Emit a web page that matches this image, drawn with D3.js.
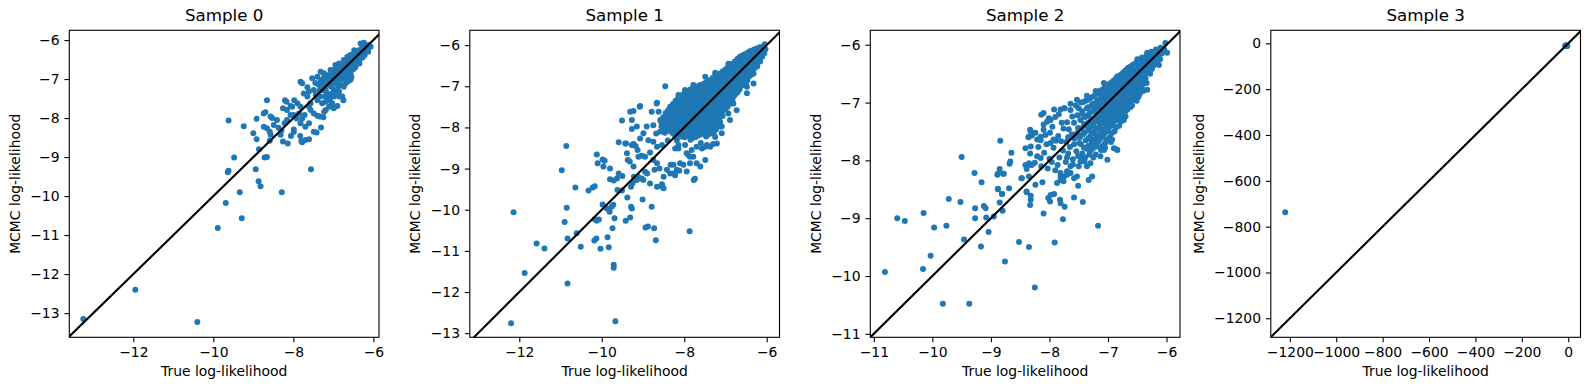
<!DOCTYPE html>
<html>
<head>
<meta charset="utf-8">
<script src="https://cdn.jsdelivr.net/npm/d3@7"></script>
<style>
  body { margin: 0; background: #fff; }
  text { font-family: "DejaVu Sans", sans-serif; fill: #000; }
</style>
</head>
<body>
<div id="chart"></div>
<script>
// titles and axis labels
const sampleTitles = ["Sample 0", "Sample 1", "Sample 2", "Sample 3"];
const xLabelText = "True log-likelihood";
const yLabelText = "MCMC log-likelihood";

// axis limits
const xLimits = [[-13.6, -5.86], [-13.2, -5.69], [-11.06, -5.77], [-1282, 53]];
const yLimits = [[-13.62, -5.75], [-13.1, -5.64], [-11.06, -5.75], [-1283, 57]];

// tick values
const xTickValues = [[-12, -10, -8, -6], [-12, -10, -8, -6], [-11, -10, -9, -8, -7, -6], [-1200, -1000, -800, -600, -400, -200, 0]];
const yTickValues = [[-13, -12, -11, -10, -9, -8, -7, -6], [-13, -12, -11, -10, -9, -8, -7, -6], [-11, -10, -9, -8, -7, -6], [-1200, -1000, -800, -600, -400, -200, 0]];

// [true, mcmc] pairs
const sample0 = [
[-13.25,-13.15],[-11.95,-12.40],[-10.40,-13.23],[-9.89,-10.82],[-9.69,-10.18],[-9.29,-10.57],[-9.34,-9.90],
[-9.64,-9.39],[-9.62,-9.35],[-9.48,-9.01],[-9.62,-8.06],[-9.24,-8.21],[-8.94,-9.31],[-8.87,-9.62],[-8.82,-9.75],
[-8.86,-8.80],[-8.92,-8.54],[-9.0,-8.39],[-8.92,-8.02],[-8.72,-9.01],[-8.66,-9.0],[-8.29,-9.90],[-7.56,-9.31],
[-8.66,-7.54],[-8.74,-7.88],[-8.70,-7.85],[-8.57,-7.96],[-8.53,-8.0],[-8.74,-8.22],[-8.66,-8.26],[-8.59,-8.35],
[-8.57,-8.43],[-8.59,-8.58],[-8.49,-8.18],[-8.41,-8.05],[-8.37,-8.25],[-8.30,-8.32],[-8.22,-8.13],[-8.16,-8.05],
[-8.26,-8.60],[-8.14,-8.65],[-8.32,-8.43],[-7.99,-8.29],[-8.21,-7.54],[-8.17,-7.58],[-8.26,-7.75],[-8.16,-7.79],
[-8.07,-7.69],[-8.03,-7.71],[-8.06,-8.46],[-7.99,-8.36],[-7.82,-8.13],[-7.78,-8.01],[-7.72,-7.92],[-7.83,-8.46],
[-7.80,-8.59],[-7.78,-8.62],[-7.70,-8.56],[-7.61,-8.54],[-7.49,-8.35],[-7.42,-8.37],[-7.31,-8.24],[-7.70,-8.22],
[-7.61,-8.13],[-7.40,-7.94],[-7.34,-7.96],[-7.25,-7.98],[-7.49,-7.88],[-7.57,-7.79],[-7.23,-7.84],[-7.19,-7.79],
[-6.90,-7.69],[-7.98,-7.54],[-7.90,-7.62],[-7.82,-7.71],[-7.82,-7.07],[-7.78,-7.11],[-7.65,-7.21],[-7.61,-7.32],
[-7.53,-6.98],[-7.36,-7.15],[-7.32,-7.07],[-7.32,-6.81],[-7.24,-6.85],[-7.19,-7.28],[-7.15,-7.37],[-7.11,-7.54],
[-7.07,-7.47],[-6.99,-7.45],[-6.90,-7.24],[-6.86,-7.32],[-6.82,-7.15],[-7.03,-6.98],[-6.99,-6.77],[-6.90,-6.73],
[-6.82,-6.68],[-6.74,-6.64],[-6.65,-6.55],[-6.57,-6.51],[-6.53,-6.38],[-6.44,-6.34],[-6.36,-6.26],[-6.28,-6.17],
[-6.19,-6.13],[-6.11,-6.13],[-6.07,-6.17],[-6.32,-6.09],[-6.24,-6.07],[-6.48,-6.47],[-6.40,-6.55],[-6.36,-6.43],
[-6.65,-6.77],[-6.57,-6.85],[-6.48,-6.68],[-6.74,-6.90],[-6.65,-6.94],[-6.57,-7.02],[-6.69,-7.11],[-6.82,-7.02],
[-6.90,-6.94],[-7.07,-7.11],[-7.11,-7.15],[-7.24,-7.19],[-7.28,-7.02],[-7.40,-6.94],[-7.49,-7.28],[-7.44,-7.41],
[-7.40,-7.54],[-7.32,-7.45],[-7.28,-7.62],[-7.19,-7.58],[-7.11,-7.71],[-7.03,-7.62],[-6.99,-7.75],[-6.86,-7.45],
[-6.78,-7.45],[-6.75,-7.54],[-6.99,-7.28],[-6.95,-7.11],[-7.03,-7.37],[-7.74,-7.37],[-7.65,-7.45],[-7.57,-7.62],
[-7.61,-7.71],[-8.07,-7.92],[-7.99,-7.92],[-7.92,-8.01],[-7.86,-7.88],
[-6.82,-6.81],[-6.78,-6.94],[-6.69,-6.81],[-6.61,-6.68],[-6.53,-6.60],[-6.44,-6.47],[-6.40,-6.34],[-6.28,-6.30],
[-6.19,-6.26],[-6.15,-6.21],[-6.48,-6.26],[-6.57,-6.38],[-6.65,-6.43],[-6.74,-6.51],[-6.86,-6.60],[-6.95,-6.64],
[-7.07,-6.77],[-7.15,-6.90],[-7.24,-6.98],[-7.28,-7.19],[-6.90,-7.07],[-6.74,-7.20],
[-7.15,-7.0],[-7.05,-7.2],[-6.95,-7.35],[-6.85,-6.9],[-6.7,-7.0],[-6.6,-6.9],[-6.5,-6.75],[-6.45,-6.6],
[-6.35,-6.52],[-6.3,-6.4],[-6.25,-6.35],[-6.6,-6.62],[-6.7,-6.72],[-6.92,-6.85],[-7.2,-7.45],[-7.45,-7.1],
[-7.35,-7.3],[-7.1,-6.9],[-6.62,-7.05],[-6.55,-6.95],
[-6.2,-6.2],[-6.3,-6.25],[-6.38,-6.38],[-6.42,-6.42],[-6.5,-6.5],[-6.55,-6.45],[-6.62,-6.55],[-6.68,-6.65],
[-6.72,-6.75],[-6.78,-6.7],[-6.8,-6.88],[-6.88,-6.8],[-6.92,-6.95],[-6.97,-6.88],[-7.0,-7.0],[-7.05,-6.92],
[-7.08,-7.05],[-7.12,-7.1],[-7.2,-7.1],[-7.22,-7.3],[-6.6,-6.78],[-6.68,-6.88],[-6.45,-6.7],[-6.35,-6.6],
[-6.27,-6.45],[-6.22,-6.38],[-6.13,-6.3]
];

const sample1 = [
// scattered
[-12.20,-12.76],[-12.14,-10.06],[-11.87,-11.54],[-11.58,-10.82],[-11.39,-10.94],[-10.97,-9.04],[-10.86,-8.45],
[-10.90,-10.30],[-10.85,-9.95],[-10.83,-10.70],[-10.83,-11.79],[-10.61,-10.57],[-10.51,-10.90],[-10.64,-9.46],
[-10.32,-9.53],[-10.22,-9.46],[-10.17,-9.43],[-10.12,-8.66],[-10.10,-8.87],[-9.98,-8.78],[-9.93,-8.81],[-9.96,-8.95],
[-9.80,-9.0],[-10.17,-10.23],[-10.12,-10.27],[-10.07,-10.24],[-10.18,-10.75],[-10.13,-10.70],[-10.03,-10.95],
[-9.98,-9.87],[-9.88,-9.97],[-9.81,-10.05],[-9.76,-9.93],[-9.72,-9.88],[-9.69,-10.21],[-9.86,-10.67],[-9.83,-10.91],
[-9.71,-11.34],[-9.71,-11.41],[-9.67,-12.71],[-9.74,-10.45],[-9.80,-9.26],[-9.71,-9.29],[-9.63,-9.24],[-9.59,-9.12],
[-9.50,-9.18],[-9.62,-9.52],[-9.59,-8.36],[-9.42,-10.27],[-9.38,-9.70],[-9.29,-9.93],[-9.27,-9.97],[-9.31,-10.19],
[-9.01,-9.75],[-8.94,-10.43],[-8.88,-10.41],[-8.73,-10.45],[-8.79,-9.93],[-8.69,-10.74],[-7.87,-10.52],[-9.29,-9.44],
[-9.25,-9.35],[-9.22,-9.2],[-9.15,-9.28],[-9.12,-9.2],[-9.03,-9.24],[-8.95,-9.08],[-8.90,-9.12],
[-8.46,-7.0],[-8.66,-7.40],[-9.07,-7.48],[-9.23,-7.60],[-9.31,-7.62],[-9.51,-7.83],[-9.27,-7.82],[-9.27,-8.04],
[-8.79,-7.62],[-8.58,-7.82],[-8.34,-7.50],[-8.91,-7.98],[-8.99,-8.14],[-9.43,-8.39],[-9.27,-8.43],[-9.07,-8.27],
[-8.87,-8.31],[-8.75,-8.35],[-8.66,-8.47],[-8.54,-8.43],[-9.23,-8.95],[-9.03,-8.69],[-8.95,-8.71],[-8.83,-8.61],
[-8.75,-8.79],[-8.66,-8.87],[-8.99,-9.28],[-8.83,-9.36],[-8.66,-9.44],[-8.54,-9.44],[-8.50,-9.2],[-8.34,-9.12],
[-8.26,-8.91],[-8.10,-8.87],[-8.02,-8.91],[-8.18,-9.03],[-8.26,-9.12],[-7.94,-9.07],[-7.86,-8.87],[-7.70,-8.87],
[-7.74,-9.25],[-7.77,-9.28],[-7.49,-8.79],[-7.94,-8.63],[-7.86,-8.71],[-8.22,-8.51],[-8.14,-8.43],[-8.18,-8.31],
[-9.51,-9.53],[-8.60,-9.0],[-8.72,-9.03],[-8.54,-9.38],[-8.50,-9.48],[-7.30,-8.40],[-7.29,-8.14],[-7.57,-8.51],
[-7.49,-8.47],[-7.90,-8.67],[-7.78,-8.71],[-7.61,-8.95],[-8.42,-9.03],[-8.33,-8.91],[-8.22,-9.16],[-8.12,-9.05],
[-9.11,-8.71],[-9.13,-8.55],[-9.18,-8.45],[-9.23,-8.40],[-9.39,-8.63],[-9.41,-8.39],[-9.37,-8.79],[-9.32,-8.83],
[-9.08,-7.50],[-9.15,-7.98],[-8.67,-7.42],
[-7.13,-7.98],[-7.09,-8.14],[-6.89,-7.82],[-6.73,-7.58],[-6.48,-7.17],[-6.32,-6.93],[-7.21,-8.39],[-7.37,-8.47],
// ragged edges of the core
[-8.14,-7.21],[-7.98,-7.09],[-7.78,-6.97],[-7.49,-6.77],[-7.25,-6.67],[-6.93,-6.45],[-6.61,-6.32],[-6.32,-6.16],
[-6.32,-6.69],[-6.48,-7.01],[-6.81,-7.42],[-6.93,-7.66],[-7.09,-7.98],[-7.25,-8.23],[-7.45,-8.43],[-7.70,-8.47],
[-7.82,-8.55],[-7.98,-8.43],[-8.14,-8.51],[-8.62,-7.62],[-8.75,-7.95],[-8.4,-8.32],[-8.68,-8.15],[-7.6,-8.38],
// dense core
[-6.05,-5.98],[-6.03,-6.1],[-6.06,-6.2],
[-6.17,-6.05],[-6.15,-6.17],[-6.18,-6.29],[-6.16,-6.4],
[-6.29,-6.1],[-6.27,-6.22],[-6.3,-6.34],[-6.28,-6.46],[-6.31,-6.58],
[-6.41,-6.15],[-6.39,-6.27],[-6.42,-6.39],[-6.4,-6.51],[-6.43,-6.63],[-6.41,-6.75],
[-6.53,-6.22],[-6.51,-6.34],[-6.54,-6.46],[-6.52,-6.58],[-6.55,-6.7],[-6.53,-6.82],[-6.51,-6.92],
[-6.65,-6.28],[-6.63,-6.4],[-6.66,-6.52],[-6.64,-6.64],[-6.67,-6.76],[-6.65,-6.88],[-6.63,-7.0],[-6.66,-7.08],
[-6.77,-6.4],[-6.75,-6.52],[-6.78,-6.64],[-6.76,-6.76],[-6.79,-6.88],[-6.77,-7.0],[-6.75,-7.12],[-6.78,-7.22],
[-6.89,-6.5],[-6.87,-6.62],[-6.9,-6.74],[-6.88,-6.86],[-6.91,-6.98],[-6.89,-7.1],[-6.87,-7.22],[-6.9,-7.34],[-6.88,-7.42],
[-7.01,-6.6],[-6.99,-6.72],[-7.02,-6.84],[-7.0,-6.96],[-7.03,-7.08],[-7.01,-7.2],[-6.99,-7.32],[-7.02,-7.44],[-7.0,-7.56],
[-7.13,-6.69],[-7.11,-6.81],[-7.14,-6.93],[-7.12,-7.05],[-7.15,-7.17],[-7.13,-7.29],[-7.11,-7.41],[-7.14,-7.53],[-7.12,-7.65],[-7.15,-7.77],[-7.13,-7.87],
[-7.25,-6.75],[-7.23,-6.87],[-7.26,-6.99],[-7.24,-7.11],[-7.27,-7.23],[-7.25,-7.35],[-7.23,-7.47],[-7.26,-7.59],[-7.24,-7.71],[-7.27,-7.83],[-7.25,-7.95],[-7.23,-8.05],
[-7.37,-6.85],[-7.35,-6.97],[-7.38,-7.09],[-7.36,-7.21],[-7.39,-7.33],[-7.37,-7.45],[-7.35,-7.57],[-7.38,-7.69],[-7.36,-7.81],[-7.39,-7.93],[-7.37,-8.05],[-7.35,-8.15],
[-7.49,-6.92],[-7.47,-7.04],[-7.5,-7.16],[-7.48,-7.28],[-7.51,-7.4],[-7.49,-7.52],[-7.47,-7.64],[-7.5,-7.76],[-7.48,-7.88],[-7.51,-8.0],[-7.49,-8.12],[-7.47,-8.22],
[-7.61,-6.97],[-7.59,-7.09],[-7.62,-7.21],[-7.6,-7.33],[-7.63,-7.45],[-7.61,-7.57],[-7.59,-7.69],[-7.62,-7.81],[-7.6,-7.93],[-7.63,-8.05],[-7.61,-8.17],
[-7.73,-7.02],[-7.71,-7.14],[-7.74,-7.26],[-7.72,-7.38],[-7.75,-7.5],[-7.73,-7.62],[-7.71,-7.74],[-7.74,-7.86],[-7.72,-7.98],[-7.75,-8.1],[-7.73,-8.24],
[-7.85,-7.08],[-7.83,-7.2],[-7.86,-7.32],[-7.84,-7.44],[-7.87,-7.56],[-7.85,-7.68],[-7.83,-7.8],[-7.86,-7.92],[-7.84,-8.04],[-7.87,-8.16],[-7.85,-8.3],
[-7.97,-7.15],[-7.95,-7.27],[-7.98,-7.39],[-7.96,-7.51],[-7.99,-7.63],[-7.97,-7.75],[-7.95,-7.87],[-7.98,-7.99],[-7.96,-8.11],[-7.99,-8.24],
[-8.09,-7.25],[-8.07,-7.37],[-8.1,-7.49],[-8.08,-7.61],[-8.11,-7.73],[-8.09,-7.85],[-8.07,-7.97],[-8.1,-8.09],[-8.08,-8.22],
[-8.21,-7.35],[-8.19,-7.47],[-8.22,-7.59],[-8.2,-7.71],[-8.23,-7.83],[-8.21,-7.95],[-8.19,-8.07],[-8.22,-8.2],
[-8.33,-7.5],[-8.31,-7.62],[-8.34,-7.74],[-8.32,-7.86],[-8.35,-7.98],[-8.33,-8.1],
[-8.45,-7.65],[-8.43,-7.77],[-8.46,-7.89],[-8.44,-8.01],[-8.47,-8.13],
[-8.57,-7.85],[-8.55,-7.97],[-8.58,-8.1],
// dense core, in-between points
[-6.11,-6.04],[-6.11,-6.16],[-6.11,-6.28],
[-6.23,-6.08],[-6.23,-6.2],[-6.23,-6.32],[-6.23,-6.44],[-6.23,-6.52],
[-6.35,-6.13],[-6.35,-6.25],[-6.35,-6.37],[-6.35,-6.49],[-6.35,-6.61],[-6.35,-6.7],
[-6.47,-6.19],[-6.47,-6.31],[-6.47,-6.43],[-6.47,-6.55],[-6.47,-6.67],[-6.47,-6.79],[-6.47,-6.86],
[-6.59,-6.25],[-6.59,-6.37],[-6.59,-6.49],[-6.59,-6.61],[-6.59,-6.73],[-6.59,-6.85],[-6.59,-6.97],
[-6.71,-6.34],[-6.71,-6.46],[-6.71,-6.58],[-6.71,-6.7],[-6.71,-6.82],[-6.71,-6.94],[-6.71,-7.06],[-6.71,-7.15],
[-6.83,-6.45],[-6.83,-6.57],[-6.83,-6.69],[-6.83,-6.81],[-6.83,-6.93],[-6.83,-7.05],[-6.83,-7.17],[-6.83,-7.29],[-6.83,-7.36],
[-6.95,-6.55],[-6.95,-6.67],[-6.95,-6.79],[-6.95,-6.91],[-6.95,-7.03],[-6.95,-7.15],[-6.95,-7.27],[-6.95,-7.39],[-6.95,-7.5],
[-7.07,-6.64],[-7.07,-6.76],[-7.07,-6.88],[-7.07,-7.0],[-7.07,-7.12],[-7.07,-7.24],[-7.07,-7.36],[-7.07,-7.48],[-7.07,-7.6],[-7.07,-7.72],
[-7.19,-6.72],[-7.19,-6.84],[-7.19,-6.96],[-7.19,-7.08],[-7.19,-7.2],[-7.19,-7.32],[-7.19,-7.44],[-7.19,-7.56],[-7.19,-7.68],[-7.19,-7.8],[-7.19,-7.92],
[-7.31,-6.8],[-7.31,-6.92],[-7.31,-7.04],[-7.31,-7.16],[-7.31,-7.28],[-7.31,-7.4],[-7.31,-7.52],[-7.31,-7.64],[-7.31,-7.76],[-7.31,-7.88],[-7.31,-8.0],[-7.31,-8.1],
[-7.43,-6.88],[-7.43,-7.0],[-7.43,-7.12],[-7.43,-7.24],[-7.43,-7.36],[-7.43,-7.48],[-7.43,-7.6],[-7.43,-7.72],[-7.43,-7.84],[-7.43,-7.96],[-7.43,-8.08],[-7.43,-8.18],
[-7.55,-6.95],[-7.55,-7.07],[-7.55,-7.19],[-7.55,-7.31],[-7.55,-7.43],[-7.55,-7.55],[-7.55,-7.67],[-7.55,-7.79],[-7.55,-7.91],[-7.55,-8.03],[-7.55,-8.15],
[-7.67,-7.0],[-7.67,-7.12],[-7.67,-7.24],[-7.67,-7.36],[-7.67,-7.48],[-7.67,-7.6],[-7.67,-7.72],[-7.67,-7.84],[-7.67,-7.96],[-7.67,-8.08],[-7.67,-8.2],
[-7.79,-7.05],[-7.79,-7.17],[-7.79,-7.29],[-7.79,-7.41],[-7.79,-7.53],[-7.79,-7.65],[-7.79,-7.77],[-7.79,-7.89],[-7.79,-8.01],[-7.79,-8.13],[-7.79,-8.25],
[-7.91,-7.12],[-7.91,-7.24],[-7.91,-7.36],[-7.91,-7.48],[-7.91,-7.6],[-7.91,-7.72],[-7.91,-7.84],[-7.91,-7.96],[-7.91,-8.08],[-7.91,-8.2],
[-8.03,-7.2],[-8.03,-7.32],[-8.03,-7.44],[-8.03,-7.56],[-8.03,-7.68],[-8.03,-7.8],[-8.03,-7.92],[-8.03,-8.04],[-8.03,-8.16],
[-8.15,-7.3],[-8.15,-7.42],[-8.15,-7.54],[-8.15,-7.66],[-8.15,-7.78],[-8.15,-7.9],[-8.15,-8.02],[-8.15,-8.14],
[-8.27,-7.43],[-8.27,-7.55],[-8.27,-7.67],[-8.27,-7.79],[-8.27,-7.91],[-8.27,-8.03],[-8.27,-8.15],
[-8.39,-7.58],[-8.39,-7.7],[-8.39,-7.82],[-8.39,-7.94],[-8.39,-8.06],
[-8.51,-7.75],[-8.51,-7.87],[-8.51,-7.99],[-8.51,-8.1]
];

const sample2 = [
// scattered
[-10.81,-9.93],[-10.60,-9.00],[-10.47,-9.05],[-10.15,-8.91],[-9.97,-9.16],[-10.16,-9.88],[-10.03,-9.65],
[-9.82,-10.48],[-9.37,-10.48],[-9.76,-9.13],[-9.72,-8.67],[-9.52,-8.72],[-9.50,-7.94],[-9.46,-9.37],[-9.28,-8.22],
[-9.27,-8.83],[-9.27,-9.00],[-9.17,-9.49],[-9.16,-8.38],[-9.12,-8.79],[-9.09,-8.83],[-9.08,-8.99],[-9.04,-9.24],
[-8.95,-8.97],[-8.84,-7.66],[-8.88,-8.49],[-8.88,-8.23],[-8.85,-8.15],[-8.85,-8.73],[-8.80,-8.87],[-8.78,-8.23],
[-8.81,-8.58],[-8.76,-9.75],[-8.69,-8.48],[-8.68,-8.06],[-8.65,-7.87],[-8.52,-9.41],[-8.48,-8.31],[-8.39,-8.15],
[-8.35,-8.05],[-8.39,-8.54],[-8.35,-9.50],[-8.32,-8.68],[-8.33,-8.77],[-8.36,-7.60],[-8.33,-7.47],[-8.24,-8.42],
[-8.25,-10.20],[-8.14,-7.21],[-8.10,-8.92],[-8.07,-7.56],[-8.02,-8.65],[-7.99,-8.71],[-7.92,-8.58],[-7.91,-9.42],
[-7.82,-8.68],[-7.81,-8.74],[-7.77,-9.02],[-7.74,-8.80],[-7.58,-8.64],[-7.51,-8.44],[-7.43,-8.72],[-7.17,-9.13],
[-6.85,-7.81],[-7.87,-8.39],[-7.81,-8.34],[-7.76,-8.36],[-7.70,-8.25],[-7.64,-8.22],[-7.58,-8.31],
[-8.10,-7.18],[-8.01,-7.27],[-7.98,-7.30],[-7.81,-7.12],[-7.75,-7.10],[-8.32,-7.50],[-8.10,-7.47],[-8.21,-7.64],
[-8.15,-7.59],[-8.35,-7.59],[-7.98,-7.70],[-7.93,-7.64],[-8.41,-7.79],[-8.32,-7.76],[-8.41,-8.08],[-8.35,-8.08],
[-8.30,-8.08],[-8.47,-8.31],[-8.35,-8.28],[-8.21,-7.93],[-8.15,-7.96],[-8.89,-8.25],[-8.79,-8.23],[-8.67,-8.02],
[-8.88,-8.50],[-8.81,-8.58],[-8.39,-8.55],[-8.32,-8.61],[-8.12,-8.38],[-7.98,-8.60],[-7.81,-8.22],[-7.75,-8.28],
[-7.70,-8.19],[-7.64,-8.10],[-7.53,-8.28],[-7.50,-8.10],[-7.36,-8.10],[-7.30,-8.05],[-7.33,-8.34],[-7.27,-8.28],
[-7.19,-7.76],[-7.07,-7.82],[-7.13,-7.93],[-7.01,-7.99],[-6.90,-7.79],[-6.84,-7.82],[-6.93,-7.64],[-6.79,-7.24],
[-6.73,-7.30],[-6.59,-6.95],[-6.53,-6.81],[-6.36,-6.66],[-6.33,-6.78],[-6.16,-6.29],[-6.13,-6.35],[-5.99,-6.14],
// ragged edges of the core
[-6.84,-6.55],[-7.07,-6.66],[-7.53,-6.95],[-7.64,-7.02],[-7.36,-6.88],[-7.21,-6.8],[-6.67,-6.43],[-6.50,-6.25],
[-6.33,-6.14],[-7.92,-7.12],[-7.12,-7.82],[-7.25,-7.95],[-7.4,-8.02],[-7.32,-7.9],[-7.18,-7.68],[-7.05,-7.78],
[-6.95,-7.68],[-7.45,-7.95],[-7.6,-7.98],[-7.7,-7.95],[-7.58,-7.72],[-7.68,-7.6],
// dense core
[-6.02,-5.97],[-6.04,-6.08],
[-6.10,-6.05],[-6.08,-6.15],[-6.11,-6.25],
[-6.18,-6.08],[-6.16,-6.18],[-6.19,-6.3],
[-6.26,-6.12],[-6.24,-6.22],[-6.27,-6.32],[-6.25,-6.42],[-6.28,-6.5],
[-6.34,-6.18],[-6.32,-6.28],[-6.35,-6.38],[-6.33,-6.48],[-6.36,-6.58],[-6.34,-6.66],
[-6.42,-6.22],[-6.40,-6.32],[-6.43,-6.42],[-6.41,-6.52],[-6.44,-6.62],[-6.42,-6.72],[-6.40,-6.8],
[-6.50,-6.3],[-6.48,-6.4],[-6.51,-6.5],[-6.49,-6.6],[-6.52,-6.7],[-6.50,-6.8],[-6.48,-6.9],[-6.51,-6.97],
[-6.58,-6.35],[-6.56,-6.45],[-6.59,-6.55],[-6.57,-6.65],[-6.60,-6.75],[-6.58,-6.85],[-6.56,-6.95],[-6.59,-7.05],
[-6.66,-6.4],[-6.64,-6.5],[-6.67,-6.6],[-6.65,-6.7],[-6.68,-6.8],[-6.66,-6.9],[-6.64,-7.0],[-6.67,-7.12],
[-6.74,-6.48],[-6.72,-6.58],[-6.75,-6.68],[-6.73,-6.78],[-6.76,-6.88],[-6.74,-6.98],[-6.72,-7.08],[-6.75,-7.2],[-6.73,-7.28],
[-6.82,-6.55],[-6.80,-6.65],[-6.83,-6.75],[-6.81,-6.85],[-6.84,-6.95],[-6.82,-7.05],[-6.80,-7.15],[-6.83,-7.28],[-6.81,-7.4],
[-6.90,-6.62],[-6.88,-6.72],[-6.91,-6.82],[-6.89,-6.92],[-6.92,-7.02],[-6.90,-7.12],[-6.88,-7.22],[-6.91,-7.35],[-6.89,-7.5],
[-6.98,-6.68],[-6.96,-6.78],[-6.99,-6.9],[-6.97,-7.0],[-7.00,-7.1],[-6.98,-7.2],[-6.96,-7.32],[-6.99,-7.45],[-6.97,-7.6],
[-7.06,-6.75],[-7.04,-6.85],[-7.07,-6.97],[-7.05,-7.08],[-7.08,-7.2],[-7.06,-7.3],[-7.04,-7.42],[-7.07,-7.55],[-7.05,-7.7],
[-7.14,-6.8],[-7.12,-6.92],[-7.15,-7.05],[-7.13,-7.15],[-7.16,-7.28],[-7.14,-7.4],[-7.12,-7.52],[-7.15,-7.65],
[-7.22,-6.87],[-7.20,-7.0],[-7.23,-7.12],[-7.21,-7.25],[-7.24,-7.35],[-7.22,-7.48],[-7.20,-7.6],[-7.23,-7.75],[-7.21,-7.9],
[-7.30,-6.92],[-7.28,-7.05],[-7.31,-7.18],[-7.29,-7.3],[-7.32,-7.45],[-7.30,-7.58],[-7.28,-7.7],[-7.31,-7.85],
[-7.38,-6.97],[-7.36,-7.1],[-7.39,-7.25],[-7.37,-7.4],[-7.40,-7.52],[-7.38,-7.65],[-7.36,-7.8],[-7.39,-7.95],
[-7.46,-7.0],[-7.44,-7.15],[-7.47,-7.3],[-7.45,-7.45],[-7.48,-7.6],[-7.46,-7.72],[-7.44,-7.88],[-7.47,-8.02],
[-7.55,-7.05],[-7.52,-7.22],[-7.58,-7.35],[-7.53,-7.53],[-7.57,-7.62],[-7.54,-7.84],[-7.51,-7.93],
[-7.64,-7.13],[-7.61,-7.24],[-7.67,-7.46],[-7.62,-7.55],[-7.65,-7.77],[-7.68,-7.88],[-7.6,-8.07],
[-7.74,-7.1],[-7.7,-7.34],[-7.76,-7.45],[-7.71,-7.68],[-7.77,-7.83],[-7.72,-8.03],
[-7.84,-7.2],[-7.79,-7.35],[-7.85,-7.58],[-7.8,-7.67],[-7.83,-7.95],[-7.86,-8.08],[-7.81,-8.28],
[-7.9,-7.25],[-7.95,-7.42],[-7.89,-7.66],[-7.93,-7.78],[-7.96,-8.03],[-7.9,-8.17],
[-8.04,-7.33],[-7.99,-7.52],[-8.05,-7.72],[-8.0,-7.97],[-8.03,-8.14],
[-8.1,-7.38],[-8.15,-7.65],[-8.09,-7.87],[-8.14,-8.1],
[-8.24,-7.52],[-8.19,-7.77],[-8.25,-8.04],
[-8.3,-7.57],[-8.33,-7.88],
// dense core, in-between points
[-6.14,-6.1],[-6.14,-6.2],
[-6.22,-6.13],[-6.22,-6.25],[-6.22,-6.36],
[-6.30,-6.17],[-6.30,-6.27],[-6.30,-6.37],[-6.30,-6.46],
[-6.38,-6.23],[-6.38,-6.33],[-6.38,-6.43],[-6.38,-6.53],[-6.38,-6.62],
[-6.46,-6.27],[-6.46,-6.37],[-6.46,-6.47],[-6.46,-6.57],[-6.46,-6.67],[-6.46,-6.76],[-6.46,-6.85],
[-6.54,-6.33],[-6.54,-6.43],[-6.54,-6.53],[-6.54,-6.63],[-6.54,-6.73],[-6.54,-6.83],[-6.54,-6.93],
[-6.62,-6.38],[-6.62,-6.48],[-6.62,-6.58],[-6.62,-6.68],[-6.62,-6.78],[-6.62,-6.88],[-6.62,-6.98],[-6.62,-7.08],
[-6.70,-6.44],[-6.70,-6.54],[-6.70,-6.64],[-6.70,-6.74],[-6.70,-6.84],[-6.70,-6.94],[-6.70,-7.04],[-6.70,-7.15],[-6.70,-7.24],
[-6.78,-6.52],[-6.78,-6.62],[-6.78,-6.72],[-6.78,-6.82],[-6.78,-6.92],[-6.78,-7.02],[-6.78,-7.12],[-6.78,-7.22],[-6.78,-7.33],
[-6.86,-6.58],[-6.86,-6.68],[-6.86,-6.78],[-6.86,-6.88],[-6.86,-6.98],[-6.86,-7.08],[-6.86,-7.18],[-6.86,-7.3],[-6.86,-7.43],
[-6.94,-6.65],[-6.94,-6.75],[-6.94,-6.85],[-6.94,-6.95],[-6.94,-7.05],[-6.94,-7.15],[-6.94,-7.26],[-6.94,-7.4],[-6.94,-7.53],
[-7.02,-6.72],[-7.02,-6.82],[-7.02,-6.92],[-7.02,-7.03],[-7.02,-7.14],[-7.02,-7.25],[-7.02,-7.36],[-7.02,-7.5],[-7.02,-7.64],
[-7.10,-6.78],[-7.10,-6.88],[-7.10,-7.0],[-7.10,-7.12],[-7.10,-7.24],[-7.10,-7.35],[-7.10,-7.47],[-7.10,-7.6],[-7.10,-7.75],
[-7.18,-6.84],[-7.18,-6.96],[-7.18,-7.08],[-7.18,-7.2],[-7.18,-7.32],[-7.18,-7.44],[-7.18,-7.56],
[-7.26,-6.9],[-7.26,-7.02],[-7.26,-7.15],[-7.26,-7.28],[-7.26,-7.4],[-7.26,-7.53],[-7.26,-7.65],[-7.26,-7.8],
[-7.34,-6.95],[-7.34,-7.08],[-7.34,-7.22],[-7.34,-7.35],[-7.34,-7.48],[-7.34,-7.62],[-7.34,-7.75],
[-7.42,-6.99],[-7.43,-7.2],[-7.41,-7.37],[-7.43,-7.55],[-7.41,-7.78],
[-7.50,-7.1],[-7.51,-7.44],[-7.49,-7.7]
];

const sample3 = [
[-1220,-737],[-13,-11],[-10,-10],[-8,-9],[-6,-9],[-4,-10],[-7,-12],[-11,-9],[-5,-11]
];

const samples = [sample0, sample1, sample2, sample3];

// layout
const width = 1589, height = 390;
const panel = {left: 69.3, step: 400.5, top: 30.3, w: 309.7, h: 307};
const fmt = d3.format("d");

const svg = d3.select("#chart")
  .append("svg")
    .attr("width", width)
    .attr("height", height);

samples.forEach(function(pts, i) {
  const g = svg.append("g")
    .attr("transform", `translate(${panel.left + i * panel.step},${panel.top})`);

  const x = d3.scaleLinear().domain(xLimits[i]).range([0, panel.w]);
  const y = d3.scaleLinear().domain(yLimits[i]).range([panel.h, 0]);

  g.append("clipPath").attr("id", "clip" + i)
    .append("rect").attr("width", panel.w).attr("height", panel.h);

  const plot = g.append("g").attr("clip-path", `url(#clip${i})`);

  // points
  plot.selectAll("circle")
    .data(pts)
    .join("circle")
      .attr("cx", d => x(d[0]))
      .attr("cy", d => y(d[1]))
      .attr("r", 3)
      .style("fill", "#1f77b4");

  // identity line
  const lo = Math.min(xLimits[i][0], yLimits[i][0]);
  const hi = Math.max(xLimits[i][1], yLimits[i][1]);
  plot.append("line")
    .attr("x1", x(lo)).attr("y1", y(lo))
    .attr("x2", x(hi)).attr("y2", y(hi))
    .attr("stroke", "black")
    .attr("stroke-width", 2.1);

  // X axis
  const xAxis = g.append("g")
    .attr("transform", `translate(0,${panel.h})`)
    .call(d3.axisBottom(x).tickValues(xTickValues[i]).tickFormat(fmt).tickSize(4.9).tickPadding(4.9));
  xAxis.select(".domain").remove();
  xAxis.selectAll("line").attr("stroke", "black").attr("stroke-width", 1.1);
  xAxis.selectAll("text").style("font-size", "13.9px");

  // Y axis
  const yAxis = g.append("g")
    .call(d3.axisLeft(y).tickValues(yTickValues[i]).tickFormat(fmt).tickSize(4.9).tickPadding(4.9));
  yAxis.select(".domain").remove();
  yAxis.selectAll("line").attr("stroke", "black").attr("stroke-width", 1.1);
  yAxis.selectAll("text").style("font-size", "13.9px");

  // frame
  g.append("rect")
    .attr("width", panel.w)
    .attr("height", panel.h)
    .attr("fill", "none")
    .attr("stroke", "black")
    .attr("stroke-width", 1.1);

  // title
  g.append("text")
    .attr("x", panel.w / 2)
    .attr("y", 21 - panel.top)
    .attr("text-anchor", "middle")
    .style("font-size", "16.7px")
    .text(sampleTitles[i]);

  // x label
  g.append("text")
    .attr("x", panel.w / 2)
    .attr("y", 376 - panel.top)
    .attr("text-anchor", "middle")
    .style("font-size", "13.9px")
    .text(xLabelText);

  // y label, placed left of the widest tick label
  const bb = yAxis.node().getBBox();
  g.append("text")
    .attr("transform", `translate(${bb.x - 10.2},${panel.h / 2}) rotate(-90)`)
    .attr("text-anchor", "middle")
    .style("font-size", "13.9px")
    .text(yLabelText);
});
</script>
</body>
</html>
